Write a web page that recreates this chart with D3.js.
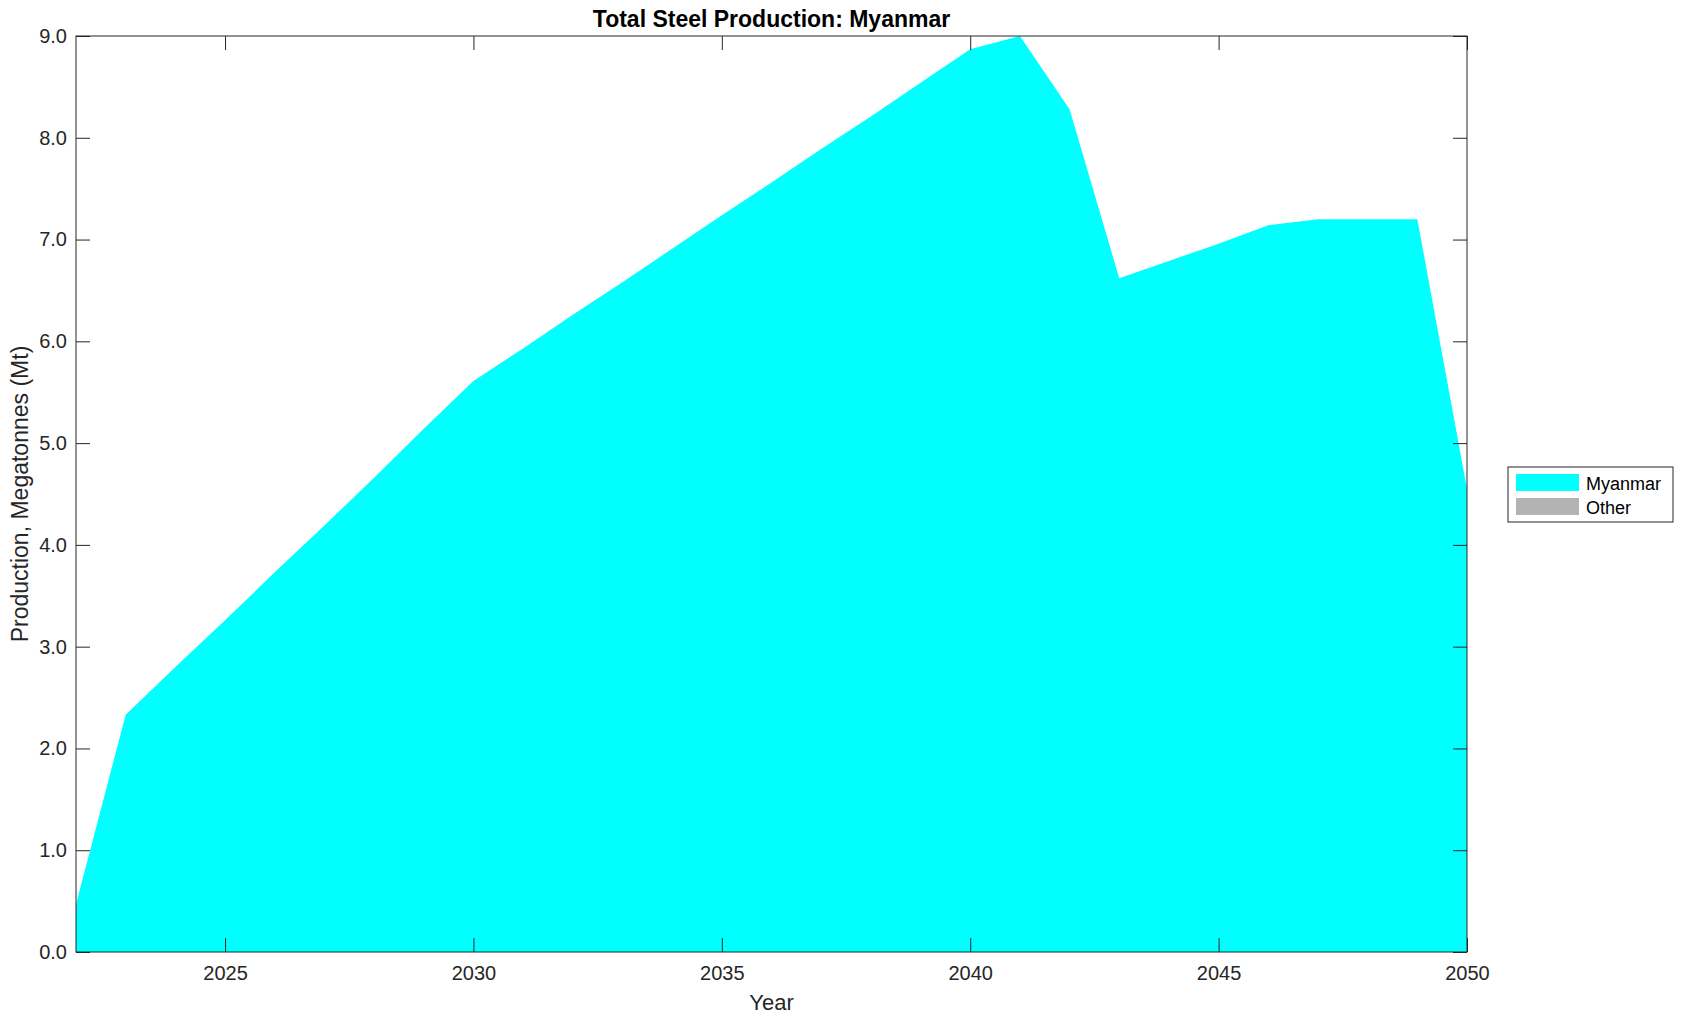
<!DOCTYPE html>
<html>
<head>
<meta charset="utf-8">
<script src="https://cdn.jsdelivr.net/npm/d3@7"></script>
<style>
    body { margin: 0; background: #fff; }
    text { font-family: "Liberation Sans", Arial, Helvetica, sans-serif; }
</style>
</head>
<body>
<div id="chart"></div>
<script>
// data
var years = [2022, 2023, 2024, 2025, 2026, 2027, 2028, 2029, 2030, 2031, 2032, 2033, 2034, 2035,
    2036, 2037, 2038, 2039, 2040, 2041, 2042, 2043, 2044, 2045, 2046, 2047, 2048, 2049, 2050];
var myanmar = [0.47, 2.33, 2.80, 3.26, 3.73, 4.19, 4.66, 5.14, 5.61, 5.93, 6.26, 6.58, 6.91, 7.24,
    7.56, 7.89, 8.21, 8.54, 8.87, 9.00, 8.28, 6.62, 6.79, 6.96, 7.14, 7.20, 7.20, 7.20, 4.55];
var other = [0, 0, 0, 0, 0, 0, 0, 0, 0, 0, 0, 0, 0, 0,
    0, 0, 0, 0, 0, 0, 0, 0, 0, 0, 0, 0, 0, 0, 0];
var seriesNames = ["Myanmar", "Other"];
var seriesColors = ["#00ffff", "#b3b3b3"];
var xTicks = [2025, 2030, 2035, 2040, 2045, 2050];
var yTicks = [0, 1, 2, 3, 4, 5, 6, 7, 8, 9];

var svgWidth = 1684;
var svgHeight = 1021;

var margin = {
    top: 36,
    bottom: 69,
    left: 76,
    right: 217
};

var width = svgWidth - margin.left - margin.right;
var height = svgHeight - margin.top - margin.bottom;
var axisColor = "#262626";
var tickLen = 14;

var svg = d3.select("#chart")
    .append("svg")
    .attr("width", svgWidth)
    .attr("height", svgHeight);

var chartGroup = svg.append("g")
    .attr("transform", `translate(${margin.left}, ${margin.top})`);

// build rows for the stack
var rows = years.map(function(y, i) {
    return { year: y, Myanmar: myanmar[i], Other: other[i] };
});

var stack = d3.stack().keys(seriesNames);
var layers = stack(rows);

// scales
var xScale = d3.scaleLinear()
    .domain([2022, 2050])
    .range([0, width]);

var yScale = d3.scaleLinear()
    .domain([0, 9])
    .range([height, 0]);

// stacked areas
var area = d3.area()
    .x(d => xScale(d.data.year))
    .y0(d => yScale(d[0]))
    .y1(d => yScale(d[1]));

chartGroup.append("g").selectAll("path")
    .data(layers)
    .enter()
    .append("path")
    .attr("d", area)
    .attr("fill", (d, i) => seriesColors[i])
    .attr("stroke", "none");

// axes, ticks pointing inward like matlab
var bottomAxis = d3.axisBottom(xScale)
    .tickValues(xTicks)
    .tickSize(-tickLen)
    .tickPadding(14)
    .tickFormat(d3.format("d"));

var leftAxis = d3.axisLeft(yScale)
    .tickValues(yTicks)
    .tickSize(-tickLen)
    .tickPadding(9)
    .tickFormat(d3.format(".1f"));

var topAxis = d3.axisTop(xScale)
    .tickValues(xTicks)
    .tickSize(-tickLen)
    .tickFormat("");

var rightAxis = d3.axisRight(yScale)
    .tickValues(yTicks)
    .tickSize(-tickLen)
    .tickFormat("");

var gx = chartGroup.append("g")
    .attr("transform", `translate(0, ${height})`)
    .call(bottomAxis);

var gy = chartGroup.append("g")
    .call(leftAxis);

var gt = chartGroup.append("g")
    .call(topAxis);

var gr = chartGroup.append("g")
    .attr("transform", `translate(${width}, 0)`)
    .call(rightAxis);

[gx, gy, gt, gr].forEach(function(g) {
    g.select(".domain").remove();
    g.selectAll(".tick line").attr("stroke", axisColor);
    g.selectAll(".tick text")
        .attr("fill", axisColor)
        .style("font-size", "20px")
        .style("font-family", "'Liberation Sans', Arial, sans-serif");
});

gx.selectAll(".tick text").attr("dy", "0.71em");

// box around the plot
chartGroup.append("rect")
    .attr("x", 0)
    .attr("y", 0)
    .attr("width", width)
    .attr("height", height)
    .attr("fill", "none")
    .attr("stroke", axisColor)
    .attr("stroke-width", 1);

// title
svg.append("text")
    .attr("x", margin.left + width / 2)
    .attr("y", 27)
    .attr("text-anchor", "middle")
    .style("font-size", "23px")
    .style("font-weight", "bold")
    .attr("fill", "#000")
    .text("Total Steel Production: Myanmar");

// x label
svg.append("text")
    .attr("x", margin.left + width / 2)
    .attr("y", 1010)
    .attr("text-anchor", "middle")
    .style("font-size", "22px")
    .attr("fill", axisColor)
    .text("Year");

// y label
svg.append("text")
    .attr("transform", "rotate(-90)")
    .attr("x", 0 - (margin.top + height / 2))
    .attr("y", 28)
    .attr("text-anchor", "middle")
    .style("font-size", "23px")
    .attr("fill", axisColor)
    .text("Production, Megatonnes (Mt)");

// legend
var legend = svg.append("g")
    .attr("transform", "translate(1508, 467)");

legend.append("rect")
    .attr("width", 165)
    .attr("height", 55)
    .attr("fill", "#fff")
    .attr("stroke", axisColor)
    .attr("stroke-width", 1);

var items = legend.selectAll(".item")
    .data(seriesNames)
    .enter()
    .append("g")
    .attr("transform", (d, i) => `translate(8, ${7 + i * 24})`);

items.append("rect")
    .attr("width", 63)
    .attr("height", 17)
    .attr("fill", (d, i) => seriesColors[i]);

items.append("text")
    .attr("x", 70)
    .attr("y", 16)
    .style("font-size", "18px")
    .attr("fill", "#000")
    .text(d => d);
</script>
</body>
</html>
